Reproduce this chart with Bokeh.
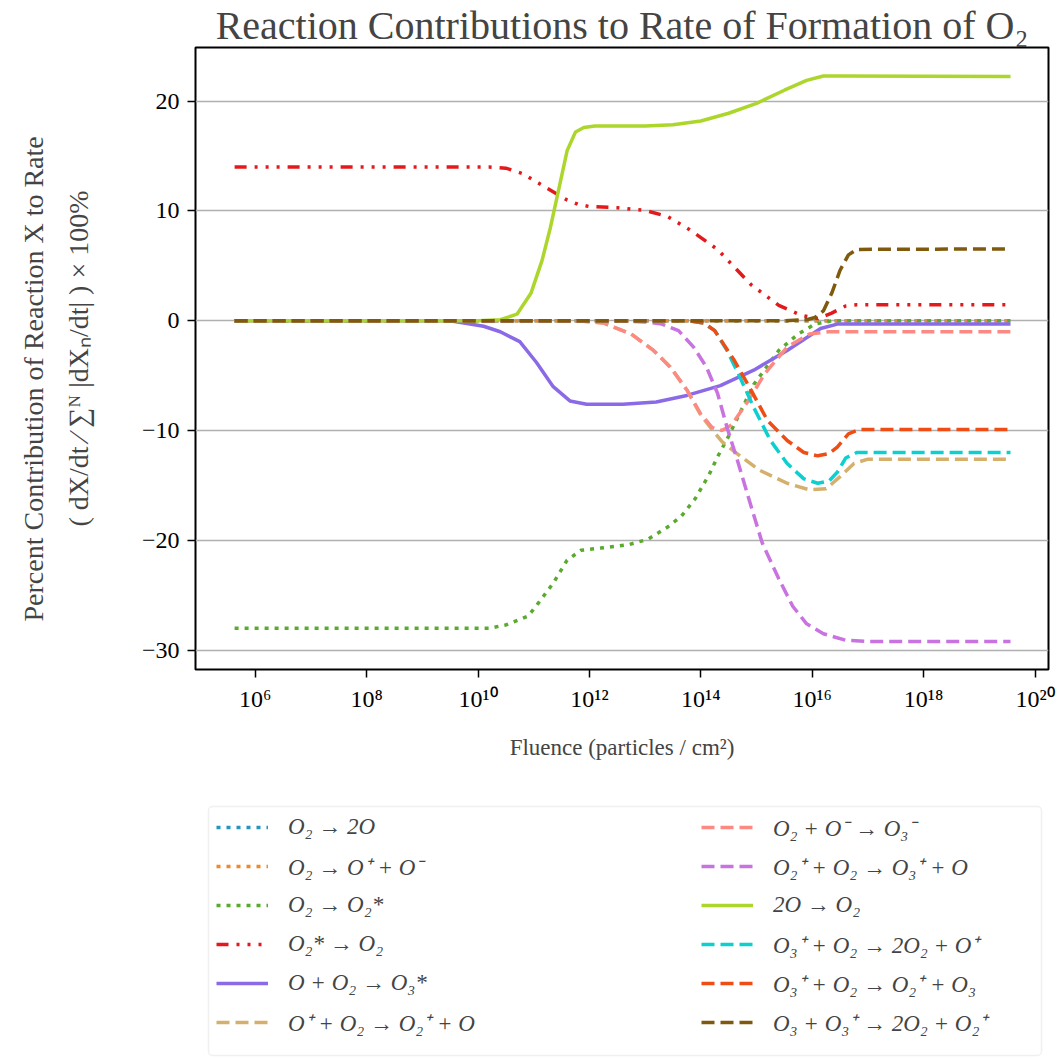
import numpy as np
from bokeh.plotting import figure
from bokeh.models import (Range1d, FixedTicker, CustomJSTickFormatter, Title,
                          Legend, LegendItem, BoxAnnotation)
from bokeh.layouts import column
from bokeh.embed import file_html
from bokeh.resources import INLINE

# ---------------- data (log10 of fluence, percent contribution) ----------------
o2_2o_logf = [5.63, 19.56]
o2_2o_pct = [0.0, 0.0]

o2_ion_logf = [5.63, 19.56]
o2_ion_pct = [0.0, 0.0]

o2_exc_logf = [5.63, 10.2, 10.5, 10.9, 11.1, 11.35, 11.6, 11.85, 12.2, 12.7, 13.05,
               13.4, 13.65, 13.9, 14.15, 14.3, 14.5, 14.95, 15.4, 15.75, 16.05, 16.35, 19.56]
o2_exc_pct = [-28.0, -28.0, -27.7, -26.9, -25.6, -23.9, -21.8, -20.9, -20.7, -20.4, -19.9,
              -18.8, -17.8, -16.2, -14.0, -12.4, -10.5, -5.8, -2.7, -1.2, -0.3, 0.0, 0.0]

o2_deexc_logf = [5.63, 10.2, 10.5, 10.8, 11.1, 11.4, 11.6, 11.8, 12.0, 12.5, 13.0, 13.4,
                 13.8, 14.3, 14.9, 15.4, 15.8, 16.1, 16.35, 16.6, 16.8, 19.56]
o2_deexc_pct = [14.0, 14.0, 13.9, 13.4, 12.5, 11.6, 11.0, 10.6, 10.4, 10.3, 10.05, 9.5,
                8.3, 6.5, 3.3, 1.4, 0.5, 0.2, 0.7, 1.35, 1.45, 1.45]

o3exc_logf = [5.63, 9.5, 10.1, 10.4, 10.75, 11.05, 11.35, 11.65, 11.95, 12.6, 13.2,
              13.75, 14.35, 14.95, 15.55, 16.15, 16.45, 19.56]
o3exc_pct = [0.0, 0.0, -0.5, -1.0, -1.9, -3.8, -6.0, -7.3, -7.6, -7.6, -7.4,
             -6.8, -5.9, -4.5, -2.7, -0.7, -0.3, -0.3]

opchg_logf = [5.63, 11.5, 11.9, 12.25, 12.75, 13.15, 13.45, 13.75, 14.0, 14.2, 14.38,
              14.65, 15.05, 15.55, 15.95, 16.25, 16.5, 16.75, 17.0, 19.56]
opchg_pct = [0.0, 0.0, -0.05, -0.2, -1.2, -2.7, -4.2, -6.3, -8.6, -9.9, -11.0,
             -12.1, -13.6, -14.8, -15.4, -15.3, -14.2, -13.0, -12.6, -12.6]

o3neg_logf = [5.63, 11.5, 11.9, 12.25, 12.75, 13.15, 13.45, 13.75, 14.0, 14.2, 14.38,
              14.55, 14.85, 15.15, 15.55, 15.95, 16.3, 19.56]
o3neg_pct = [0.0, 0.0, -0.05, -0.2, -1.2, -2.7, -4.2, -6.3, -8.5, -9.7, -10.0,
             -9.5, -7.3, -4.8, -2.4, -1.2, -1.0, -1.0]

o3pos_logf = [5.63, 12.5, 13.0, 13.3, 13.6, 13.87, 14.1, 14.3, 14.47, 14.65, 14.85,
              15.1, 15.4, 15.65, 15.9, 16.2, 16.6, 17.0, 19.56]
o3pos_pct = [0.0, 0.0, -0.1, -0.3, -0.9, -2.4, -4.2, -6.6, -9.7, -12.6, -16.0,
             -20.2, -23.5, -26.0, -27.6, -28.5, -29.1, -29.2, -29.2]

recomb_logf = [5.63, 10.0, 10.4, 10.7, 10.95, 11.15, 11.3, 11.45, 11.6, 11.75, 11.9,
               12.1, 13.0, 13.5, 14.0, 14.5, 15.0, 15.5, 15.9, 16.2, 16.5, 19.56]
recomb_pct = [0.0, 0.0, 0.1, 0.6, 2.5, 5.5, 8.5, 12.0, 15.5, 17.2, 17.6,
              17.75, 17.75, 17.85, 18.2, 18.9, 19.8, 21.0, 21.9, 22.3, 22.3, 22.25]

o3p_a_logf = [5.63, 13.8, 14.05, 14.25, 14.47, 14.7, 14.95, 15.25, 15.55, 15.85, 16.1,
              16.3, 16.45, 16.6, 16.8, 19.56]
o3p_a_pct = [0.0, 0.0, -0.2, -0.9, -2.7, -5.1, -7.9, -10.9, -13.0, -14.4, -14.8,
             -14.6, -13.8, -12.5, -12.0, -12.0]

o3p_b_logf = [5.63, 13.8, 14.05, 14.25, 14.6, 14.9, 15.2, 15.55, 15.85, 16.1, 16.3,
              16.45, 16.65, 16.85, 19.56]
o3p_b_pct = [0.0, 0.0, -0.2, -0.9, -3.6, -6.3, -9.1, -10.9, -12.0, -12.3, -12.1,
             -11.5, -10.3, -9.9, -9.9]

o3p_c_logf = [5.63, 15.5, 15.9, 16.05, 16.2, 16.35, 16.5, 16.65, 16.8, 19.56]
o3p_c_pct = [0.0, 0.0, 0.1, 0.3, 0.9, 2.5, 4.6, 6.0, 6.5, 6.55]

labels = ["O₂ → 2O", "O₂ → O⁺ + O⁻", "O₂ → O₂*", "O₂* → O₂", "O + O₂ → O₃*",
          "O⁺ + O₂ → O₂⁺ + O", "O₂ + O⁻ → O₃⁻", "O₂⁺ + O₂ → O₃⁺ + O", "2O → O₂",
          "O₃⁺ + O₂ → 2O₂ + O⁺", "O₃⁺ + O₂ → O₂⁺ + O₃", "O₃ + O₃⁺ → 2O₂ + O₂⁺"]

series = [(o2_2o_logf, o2_2o_pct), (o2_ion_logf, o2_ion_pct), (o2_exc_logf, o2_exc_pct),
          (o2_deexc_logf, o2_deexc_pct), (o3exc_logf, o3exc_pct), (opchg_logf, opchg_pct),
          (o3neg_logf, o3neg_pct), (o3pos_logf, o3pos_pct), (recomb_logf, recomb_pct),
          (o3p_a_logf, o3p_a_pct), (o3p_b_logf, o3p_b_pct), (o3p_c_logf, o3p_c_pct)]

colors = ["#2596be", "#f0892a", "#5aaa2e", "#e31a1c", "#8a6ae6", "#d4b06c",
          "#fd8a82", "#c873e0", "#acd62c", "#0ccfd0", "#ee4d16", "#805a0c"]

DOT = "4 6"
DASH = "13 6"
DDD = "12 8 3 8 3 8 3 8"
dashes = [DOT, DOT, DOT, DDD, "solid", DASH, DASH, DASH, "solid", DASH, DASH, DASH]

ylabel_line1 = "Percent Contribution of Reaction X to Rate"
ylabel_line2 = "( dX/dt ⁄ ∑ᴺ |dXₙ/dt| ) × 100%"

SERIF = "Liberation Serif"
LW = 3.5
BL, BR = 195, 14

# ---------------- main figure ----------------
p = figure(width=1062, height=790, x_axis_type="log",
           x_range=Range1d(10 ** 4.928, 10 ** 20.242), y_range=Range1d(-31.76, 24.89),
           output_backend="svg", toolbar_location=None,
           min_border_left=BL, min_border_right=BR, min_border_top=47, min_border_bottom=121)

p.title.text = "Reaction Contributions to Rate of Formation of O₂"
p.title.text_font = SERIF
p.title.text_font_size = "40px"
p.title.text_font_style = "normal"
p.title.align = "center"
p.title.standoff = 0

for (lf, pc), c, d in zip(series, colors, dashes):
    p.line(10 ** np.array(lf), pc, line_color=c, line_width=LW, line_dash=d)

p.outline_line_color = "black"
p.outline_line_width = 2
p.outline_line_alpha = 1

p.xgrid.grid_line_color = None
p.ygrid.ticker = FixedTicker(ticks=[-30, -20, -10, 0, 10, 20])
p.ygrid.grid_line_color = "#b0b0b0"
p.ygrid.grid_line_width = 1.5

p.xaxis.ticker = FixedTicker(ticks=[10.0 ** e for e in range(6, 21, 2)])
p.xaxis.formatter = CustomJSTickFormatter(code="""
const sup = {'0':'\u2070','1':'\u00b9','2':'\u00b2','3':'\u00b3','4':'\u2074','5':'\u2075','6':'\u2076','7':'\u2077','8':'\u2078','9':'\u2079','-':'\u207b'};
const e = Math.round(Math.log10(tick));
return '10' + String(e).split('').map(c => sup[c]).join('');
""")
p.yaxis.ticker = FixedTicker(ticks=[-30, -20, -10, 0, 10, 20])
p.yaxis.formatter = CustomJSTickFormatter(code="""
return tick < 0 ? '\u2212' + Math.abs(tick) : String(tick);
""")

for ax in (p.xaxis[0], p.yaxis[0]):
    ax.axis_line_color = None
    ax.major_tick_out = 8
    ax.major_tick_in = 0
    ax.major_tick_line_width = 1.5
    ax.major_tick_line_color = "black"
    ax.minor_tick_line_color = None
    ax.major_label_text_font = SERIF
    ax.major_label_text_font_size = "24px"
    ax.major_label_text_color = "black"
    ax.major_label_standoff = 8

p.xaxis.axis_label = "Fluence (particles / cm²)"
p.xaxis.axis_label_text_font = SERIF
p.xaxis.axis_label_text_font_size = "23px"
p.xaxis.axis_label_text_font_style = "normal"
p.xaxis.axis_label_standoff = 20

p.yaxis.axis_label = ylabel_line2
p.yaxis.axis_label_text_font = SERIF
p.yaxis.axis_label_text_font_size = "28px"
p.yaxis.axis_label_text_font_style = "normal"
p.yaxis.axis_label_standoff = 45

p.add_layout(Title(text=ylabel_line1, align="left", text_font=SERIF, text_font_size="28px",
                   text_font_style="normal", standoff=22, offset=48), "left")

# ---------------- legend panel ----------------
q = figure(width=1062, height=269, x_range=Range1d(0, 853), y_range=Range1d(0, 253),
           x_axis_location=None, y_axis_location=None,
           output_backend="svg", toolbar_location=None,
           min_border_left=BL, min_border_right=BR, min_border_top=14, min_border_bottom=2)
q.grid.visible = False
q.outline_line_color = None

# legend frame (pixel-sized range so the box sits like matplotlib's legend frame)
q.add_layout(BoxAnnotation(left=13, right=846, bottom=2, top=251, fill_alpha=0,
                           line_color="#cccccc", line_width=1.5, border_radius=4))

nan = float("nan")
proxies = []
for c, d in zip(colors, dashes):
    proxies.append(q.line(x=[nan], y=[nan], line_color=c, line_width=LW, line_dash=d))

items = [LegendItem(label=l, renderers=[r]) for l, r in zip(labels, proxies)]

common = dict(margin=0, padding=10, spacing=5, glyph_width=52, glyph_height=34,
              label_height=34, label_standoff=20, label_text_font=SERIF,
              label_text_font_style="italic", label_text_font_size="23px",
              border_line_color=None, background_fill_alpha=0)
leg1 = Legend(items=items[:6], location=(21, 18), **common)
leg2 = Legend(items=items[6:], location=(506, 18), **common)
q.add_layout(leg1, "center")
q.add_layout(leg2, "center")

layout = column(p, q, spacing=0)
open("out.html", "w", encoding="utf-8").write(file_html(layout, INLINE))
